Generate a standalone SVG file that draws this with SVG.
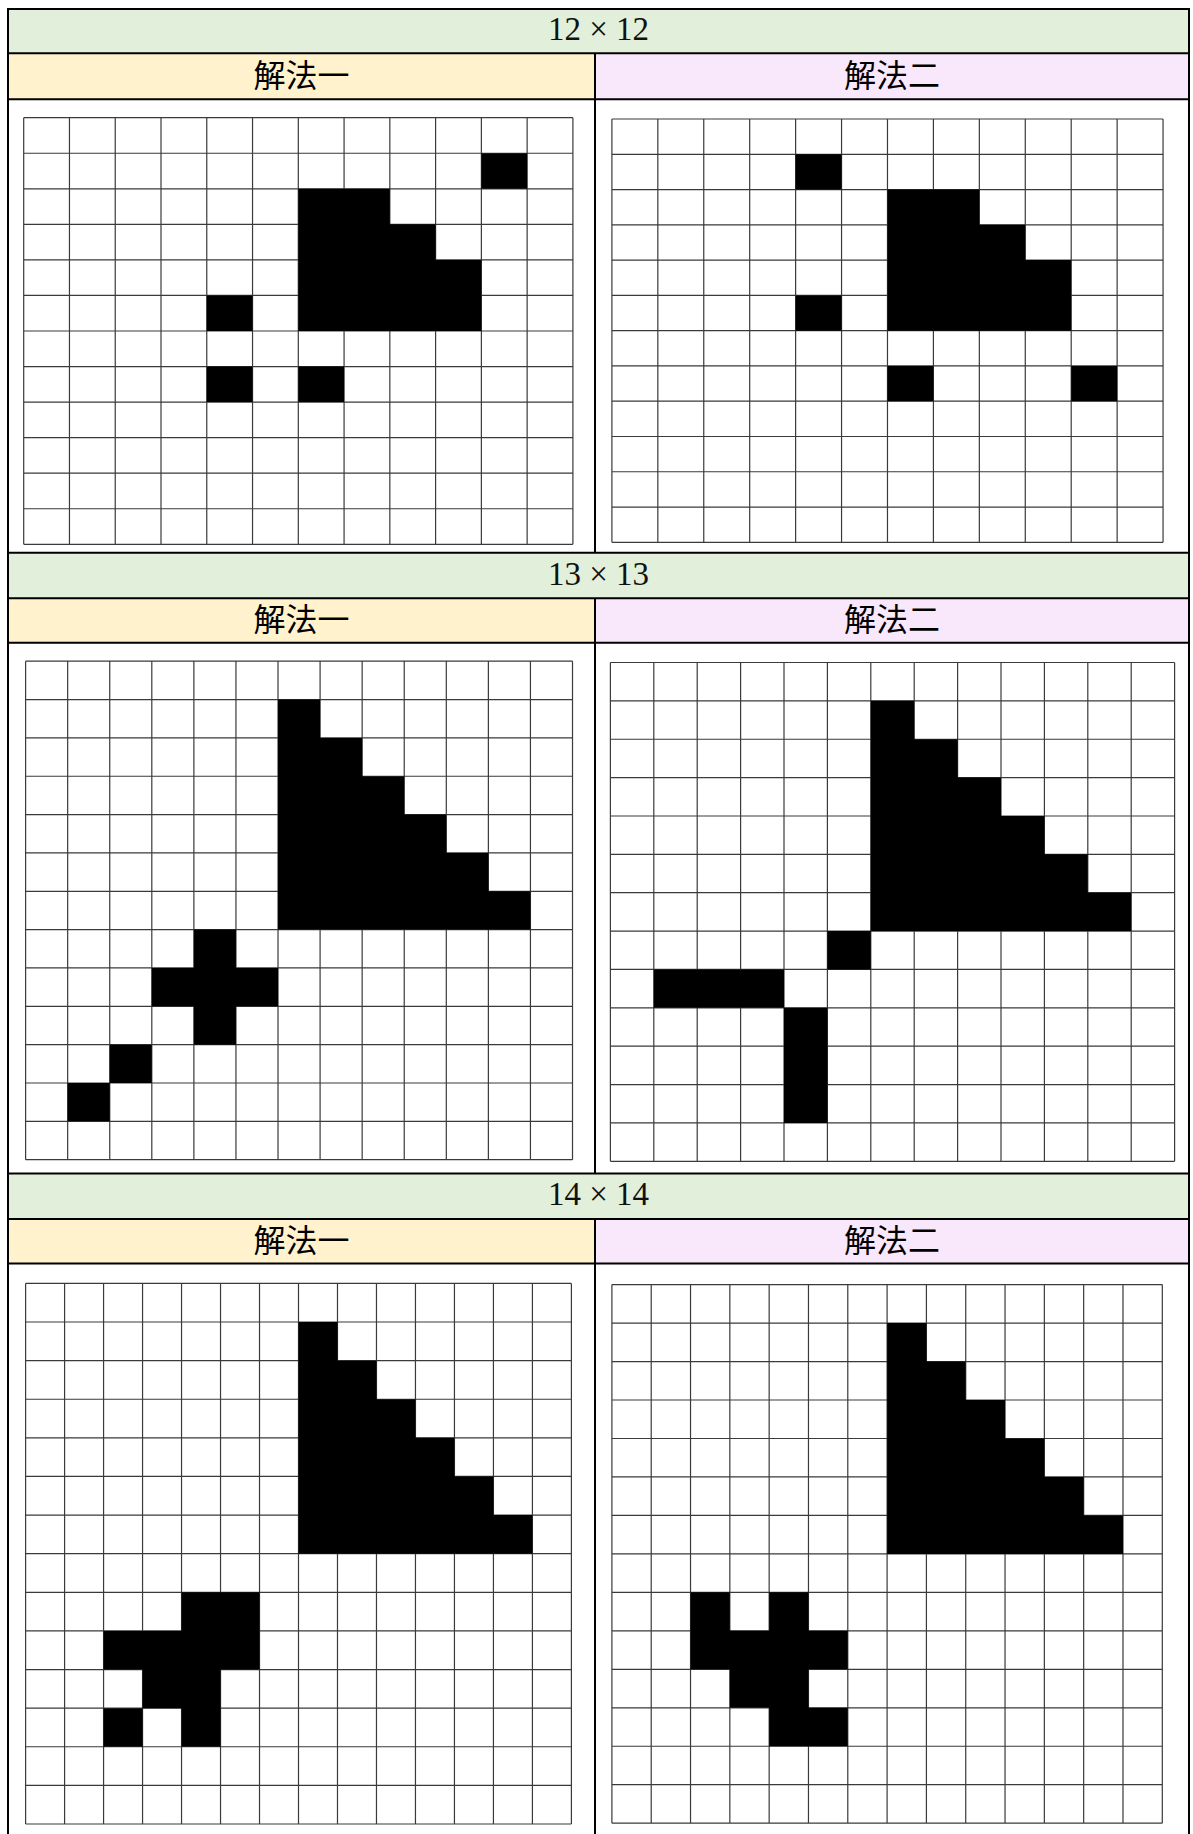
<svg xmlns="http://www.w3.org/2000/svg" width="1193" height="1834" viewBox="0 0 1193 1834">
<style>
.hdr{fill:#E2EFDA}
.s1{fill:#FFF2CC}
.s2{fill:#F9E7FB}
.tl{stroke:#000;stroke-width:2;fill:none}
.size{font-family:"Liberation Serif","DejaVu Serif",serif;font-size:33px;text-anchor:middle;fill:#111}
.sol{font-family:"Noto Sans CJK TC","Noto Sans CJK SC",sans-serif;font-size:32px;text-anchor:middle;fill:#000}
.gl{stroke:#3a3a3a;stroke-width:1.2;fill:none;vector-effect:non-scaling-stroke}
.fill{fill:#000}
</style>
<defs>
<path id="g12" class="gl" d="M0 0V12M1 0V12M2 0V12M3 0V12M4 0V12M5 0V12M6 0V12M7 0V12M8 0V12M9 0V12M10 0V12M11 0V12M12 0V12M0 0H12M0 1H12M0 2H12M0 3H12M0 4H12M0 5H12M0 6H12M0 7H12M0 8H12M0 9H12M0 10H12M0 11H12M0 12H12"/>
<path id="g13" class="gl" d="M0 0V13M1 0V13M2 0V13M3 0V13M4 0V13M5 0V13M6 0V13M7 0V13M8 0V13M9 0V13M10 0V13M11 0V13M12 0V13M13 0V13M0 0H13M0 1H13M0 2H13M0 3H13M0 4H13M0 5H13M0 6H13M0 7H13M0 8H13M0 9H13M0 10H13M0 11H13M0 12H13M0 13H13"/>
<path id="g14" class="gl" d="M0 0V14M1 0V14M2 0V14M3 0V14M4 0V14M5 0V14M6 0V14M7 0V14M8 0V14M9 0V14M10 0V14M11 0V14M12 0V14M13 0V14M14 0V14M0 0H14M0 1H14M0 2H14M0 3H14M0 4H14M0 5H14M0 6H14M0 7H14M0 8H14M0 9H14M0 10H14M0 11H14M0 12H14M0 13H14M0 14H14"/>
</defs>
<rect width="1193" height="1834" fill="#fff"/>

<g id="table-backgrounds">
<rect class="hdr" x="8" y="9" width="1181" height="44.3"/>
<rect class="s1" x="8" y="53.3" width="587" height="46"/>
<rect class="s2" x="595" y="53.3" width="594" height="46"/>
<rect class="hdr" x="8" y="552.7" width="1181" height="45.6"/>
<rect class="s1" x="8" y="598.3" width="587" height="44.4"/>
<rect class="s2" x="595" y="598.3" width="594" height="44.4"/>
<rect class="hdr" x="8" y="1173.5" width="1181" height="45.5"/>
<rect class="s1" x="8" y="1219" width="587" height="44.6"/>
<rect class="s2" x="595" y="1219" width="594" height="44.6"/>
</g>

<g id="table-lines">
<path class="tl" d="M8 9H1189M8 53.3H1189M8 99.3H1189M8 552.7H1189M8 598.3H1189M8 642.7H1189M8 1173.5H1189M8 1219H1189M8 1263.6H1189M8 8V1834M1189 8V1834M595 53.3V552.7M595 598.3V1173.5M595 1219V1834"/>
</g>

<g id="labels">
<text class="size" x="598.5" y="40.3">12 × 12</text>
<text class="sol" x="301.5" y="87">解法一</text>
<text class="sol" x="892" y="87">解法二</text>
<text class="size" x="598.5" y="584.6">13 × 13</text>
<text class="sol" x="301.5" y="631.2">解法一</text>
<text class="sol" x="892" y="631.2">解法二</text>
<text class="size" x="598.5" y="1205.4">14 × 14</text>
<text class="sol" x="301.5" y="1252">解法一</text>
<text class="sol" x="892" y="1252">解法二</text>
</g>

<g id="grid-12-sol1" transform="translate(23.7 117.7) scale(45.767 35.55)">
<use href="#g12"/>
<path class="fill" d="M10 1h1v1h-1z M6 2h2v1h1v1h1v2h-4z M4 5h1v1h-1z M4 7h1v1h-1z M6 7h1v1h-1z"/>
</g>
<g id="grid-12-sol2" transform="translate(611.9 119) scale(45.93 35.275)">
<use href="#g12"/>
<path class="fill" d="M4 1h1v1h-1z M6 2h2v1h1v1h1v2h-4z M4 5h1v1h-1z M6 7h1v1h-1z M10 7h1v1h-1z"/>
</g>
<g id="grid-13-sol1" transform="translate(25.6 661.2) scale(42.07 38.346)">
<use href="#g13"/>
<path class="fill" d="M6 1h1v1h1v1h1v1h1v1h1v1h1v1h-6z M4 7h1v1h1v1h-1v1h-1v-1h-1v-1h1z M2 10h1v1h-1z M1 11h1v1h-1z"/>
</g>
<g id="grid-13-sol2" transform="translate(610.4 662.5) scale(43.4 38.37)">
<use href="#g13"/>
<path class="fill" d="M6 1h1v1h1v1h1v1h1v1h1v1h1v1h-6z M5 7h1v1h-1z M1 8h3v1h-3z M4 9h1v3h-1z"/>
</g>
<g id="grid-14-sol1" transform="translate(25.6 1283.4) scale(38.986 38.614)">
<use href="#g14"/>
<path class="fill" d="M7 1h1v1h1v1h1v1h1v1h1v1h1v1h-6z M4 8H6V10H5V12H4V11H3V10H2V9H4z M2 11h1v1h-1z"/>
</g>
<g id="grid-14-sol2" transform="translate(611.9 1284.6) scale(39.314 38.471)">
<use href="#g14"/>
<path class="fill" d="M7 1h1v1h1v1h1v1h1v1h1v1h1v1h-6z M2 8H3V9H4V8H5V9H6V10H5V11H6V12H4V11H3V10H2z"/>
</g>
</svg>
